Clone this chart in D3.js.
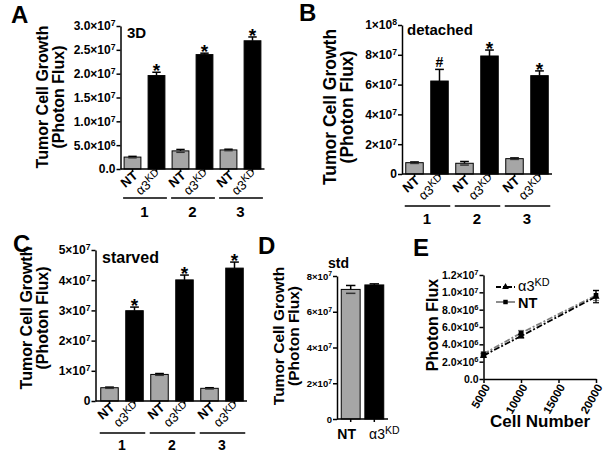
<!DOCTYPE html>
<html><head><meta charset="utf-8">
<script src="https://cdn.jsdelivr.net/npm/d3@7"></script>
<style>body{margin:0;background:#fff} svg{display:block} text{font-family:"Liberation Sans",Arial,Helvetica,sans-serif}</style>
</head><body>
<svg id="chart" width="604" height="455"></svg>
<script>
// ---------- DATA ----------
const barCategories = ["NT","α3^KD","NT","α3^KD","NT","α3^KD"];
const groupLabels = ["1","2","3"];

const aValues = [2.5e6, 19.6e6, 3.8e6, 24.0e6, 4.0e6, 26.9e6];
const aErrors = [0.15e6, 0.7e6, 0.3e6, 0.3e6, 0.15e6, 0.8e6];
const aMarks  = ["", "*", "", "*", "", "*"];
const aTicks  = [0, 5e6, 1e7, 1.5e7, 2e7, 2.5e7, 3e7];
const aTickLabels = ["0.0","5.0×10^6","1.0×10^7","1.5×10^7","2.0×10^7","2.5×10^7","3.0×10^7"];

const bValues = [7.6e6, 62.4e6, 7.2e6, 79.2e6, 10.3e6, 66.0e6];
const bErrors = [0.5e6, 7.8e6, 1.2e6, 4.0e6, 0.5e6, 3.2e6];
const bMarks  = ["", "#", "", "*", "", "*"];
const bTicks  = [0, 2e7, 4e7, 6e7, 8e7, 1e8];
const bTickLabels = ["0","2×10^7","4×10^7","6×10^7","8×10^7","1×10^8"];

const cValues = [4.4e6, 29.9e6, 8.8e6, 40.1e6, 4.2e6, 44.0e6];
const cErrors = [0.2e6, 1.2e6, 0.3e6, 1.6e6, 0.2e6, 2.0e6];
const cMarks  = ["", "*", "", "*", "", "*"];
const cTicks  = [0, 1e7, 2e7, 3e7, 4e7, 5e7];
const cTickLabels = ["0","1×10^7","2×10^7","3×10^7","4×10^7","5×10^7"];

const dCategories = ["NT","α3^KD"];
const dValues = [7.25e7, 7.5e7];
const dErrors = [2.2e6, 0.6e6];
const dTicks  = [0, 2e7, 4e7, 6e7, 8e7];
const dTickLabels = ["0","2×10^7","4×10^7","6×10^7","8×10^7"];

const eCellNumbers = [5000, 10000, 20000];
const eKdValues = [2.7e6, 4.95e6, 9.5e6];
const eKdErrors = [0.2e6, 0.2e6, 0.7e6];
const eNtValues = [2.9e6, 5.3e6, 9.65e6];
const eNtErrors = [0.2e6, 0.3e6, 0.6e6];
const eSeriesNames = ["α3^KD","NT"];
const eYTicks = [0, 2e6, 4e6, 6e6, 8e6, 1e7, 1.2e7];
const eYTickLabels = ["0.0","2.0×10^6","4.0×10^6","6.0×10^6","8.0×10^6","1.0×10^7","1.2×10^7"];
const eXTicks = [5000, 10000, 15000, 20000];

// ---------- HELPERS ----------
const svg = d3.select("#chart");
const GRAY = "#a6a6a6";

function richText(sel, str, supScale) {
  sel.text(null);
  const parts = str.split("^");
  sel.append("tspan").text(parts[0]);
  if (parts[1]) sel.append("tspan").attr("dy", "-0.45em").attr("font-size", supScale + "em").text(parts[1]);
}

function label(x, y, str, size, opts = {}) {
  const t = svg.append("text").attr("x", x).attr("y", y)
    .attr("font-size", size).attr("font-weight", opts.weight || "bold")
    .attr("text-anchor", opts.anchor || "start").attr("fill", "#000");
  richText(t, str, opts.sup || 0.7);
  return t;
}

function yTitle(lines, xs, cy, size) {
  lines.forEach((l, i) => {
    svg.append("text").attr("transform", `translate(${xs[i]},${cy}) rotate(-90)`)
      .attr("text-anchor", "middle").attr("dominant-baseline", "central")
      .attr("font-size", size).attr("font-weight", "bold").text(l);
  });
}

function yAxis(scale, x0, ticks, labels, fontSize) {
  const ax = d3.axisLeft(scale).tickValues(ticks).tickSize(4).tickSizeOuter(0).tickPadding(1).tickFormat(() => "");
  const g = svg.append("g").attr("transform", `translate(${x0},0)`).call(ax);
  g.attr("font-family", null).attr("font-size", null);
  g.select(".domain").attr("stroke-width", 1.5);
  g.selectAll(".tick line").attr("stroke-width", 1.5);
  g.selectAll(".tick text").each(function (d, i) { richText(d3.select(this), labels[i], 0.72); })
    .attr("font-size", fontSize).attr("font-weight", "bold").attr("fill", "#000");
  return g;
}

function barPanel(cfg) {
  const y = d3.scaleLinear().domain(cfg.yDomain).range(cfg.yRange);
  const x = d3.scaleBand().domain(d3.range(cfg.values.length)).range(cfg.xRange)
    .paddingInner(cfg.padIn).paddingOuter(cfg.padOut);
  const base = cfg.yRange[0];
  const bw = x.bandwidth();
  svg.append("g").selectAll("rect").data(cfg.values).join("rect")
    .attr("x", (d, i) => x(i)).attr("width", bw)
    .attr("y", d => y(d)).attr("height", d => base - y(d))
    .attr("fill", (d, i) => i % 2 === 0 ? GRAY : "#000")
    .attr("stroke", "#000").attr("stroke-width", 1);
  const eg = svg.append("g").attr("stroke", "#000").attr("stroke-width", 1.5);
  cfg.values.forEach((v, i) => {
    const cx = x(i) + bw / 2, e = cfg.errors[i];
    eg.append("line").attr("x1", cx).attr("x2", cx).attr("y1", y(v)).attr("y2", y(v + e));
    eg.append("line").attr("x1", cx - bw * 0.25).attr("x2", cx + bw * 0.25).attr("y1", y(v + e)).attr("y2", y(v + e));
    if (i % 2 === 0) eg.append("line").attr("x1", cx - bw * 0.25).attr("x2", cx + bw * 0.25).attr("y1", y(v - e)).attr("y2", y(v - e)).attr("stroke", "#333");
    if (cfg.marks && cfg.marks[i]) {
      const m = cfg.marks[i];
      svg.append("text").attr("x", cx).attr("y", m === "*" ? y(v + e) + 5 : y(v + e) - 2)
        .attr("text-anchor", "middle").attr("font-weight", "bold")
        .attr("font-size", m === "*" ? 19 : 14).text(m);
    }
  });
  yAxis(y, cfg.x0, cfg.ticks, cfg.tickLabels, cfg.tickFont);
  svg.append("line").attr("x1", cfg.x0).attr("x2", cfg.xRange[1]).attr("y1", base).attr("y2", base)
    .attr("stroke", "#000").attr("stroke-width", 1.5);
  cfg.values.forEach((v, i) => {
    const cx = x(i) + bw / 2;
    svg.append("line").attr("x1", cx).attr("x2", cx).attr("y1", base).attr("y2", base + 3)
      .attr("stroke", "#000").attr("stroke-width", 1.5);
  });
  if (cfg.rotate) {
    cfg.categories.forEach((c, i) => {
      const cx = x(i) + bw / 2;
      const t = svg.append("text").attr("transform", `translate(${cx + 6},${base + 8}) rotate(-40)`)
        .attr("text-anchor", "end").attr("font-size", 13).attr("font-weight", c === "NT" ? "bold" : "normal");
      richText(t, c, 0.8);
    });
    groupLabels.forEach((g, k) => {
      const x1 = x(2 * k), x2 = x(2 * k + 1) + bw;
      svg.append("line").attr("x1", x1 - 1).attr("x2", x2 + 2).attr("y1", cfg.ulY).attr("y2", cfg.ulY)
        .attr("stroke", "#000").attr("stroke-width", 1.5);
      svg.append("text").attr("x", (x1 + x2) / 2).attr("y", cfg.numY).attr("text-anchor", "middle")
        .attr("font-size", cfg.numFont || 15).attr("font-weight", "bold").text(g);
    });
  } else {
    cfg.categories.forEach((c, i) => {
      const cx = x(i) + bw / 2;
      const t = svg.append("text").attr("x", cx + cfg.catDx[i]).attr("y", cfg.catY).attr("text-anchor", "middle")
        .attr("font-size", 14).attr("font-weight", c === "NT" ? "bold" : "normal");
      richText(t, c, 0.75);
    });
  }
}

// ---------- PANEL A ----------
label(11, 23, "A", 24);
yTitle(["Tumor Cell Growth", "(Photon Flux)"], [42, 58], 97, 16);
barPanel({values: aValues, errors: aErrors, marks: aMarks, categories: barCategories,
  yDomain: [0, 3e7], yRange: [169, 26], xRange: [120.5, 264.5], padIn: 0.3, padOut: 0.15,
  x0: 120.5, ticks: aTicks, tickLabels: aTickLabels, tickFont: 12, rotate: true, ulY: 198, numY: 217});
label(127, 38, "3D", 15);

// ---------- PANEL B ----------
label(299, 21, "B", 24);
yTitle(["Tumor Cell Growth", "(Photon Flux)"], [330, 347], 107, 17.5);
barPanel({values: bValues, errors: bErrors, marks: bMarks, categories: barCategories,
  yDomain: [0, 1e8], yRange: [174, 25], xRange: [402, 552], padIn: 0.3, padOut: 0.15,
  x0: 402, ticks: bTicks, tickLabels: bTickLabels, tickFont: 12, rotate: true, ulY: 206, numY: 224});
label(407, 35, "detached", 15);

// ---------- PANEL C ----------
label(13, 252, "C", 24);
yTitle(["Tumor Cell Growth", "(Photon Flux)"], [26, 42], 318, 16);
barPanel({values: cValues, errors: cErrors, marks: cMarks, categories: barCategories,
  yDomain: [0, 5e7], yRange: [401, 250], xRange: [97, 247], padIn: 0.3, padOut: 0.15,
  x0: 95.5, ticks: cTicks, tickLabels: cTickLabels, tickFont: 12, rotate: true, ulY: 433, numY: 450, numFont: 14});
label(102, 263, "starved", 16);

// ---------- PANEL D ----------
label(258, 254, "D", 24);
yTitle(["Tumor Cell Growth", "(Photon Flux)"], [278, 293], 336, 15.5);
barPanel({values: dValues, errors: dErrors, marks: null, categories: dCategories,
  yDomain: [0, 8e7], yRange: [419, 276], xRange: [337, 388], padIn: 0.2, padOut: 0.18,
  x0: 337, ticks: dTicks, tickLabels: dTickLabels, tickFont: 9.5, rotate: false, catY: 439, catDx: [-4, 10]});
label(328, 268, "std", 14);

// ---------- PANEL E ----------
label(413, 256, "E", 24);
yTitle(["Photon Flux"], [432], 325, 16);
const ex = d3.scaleLinear().domain([5000, 20000]).range([483.5, 596]);
const ey = d3.scaleLinear().domain([0, 1.2e7]).range([379, 275]);
yAxis(ey, 483.5, eYTicks, eYTickLabels, 10.5);
const gx = svg.append("g").attr("transform", "translate(0,379)")
  .call(d3.axisBottom(ex).tickValues(eXTicks).tickSize(4).tickSizeOuter(0).tickFormat(d3.format("d")));
gx.attr("font-family", null).attr("font-size", null);
gx.select(".domain").attr("stroke-width", 1.5);
gx.selectAll(".tick line").attr("stroke-width", 1.5);
gx.selectAll(".tick text").attr("font-size", 11.5).attr("font-weight", "bold").attr("fill", "#000")
  .attr("text-anchor", "end").attr("x", 0).attr("y", 0).attr("dy", "0.35em")
  .attr("transform", "translate(3,6) rotate(-60)");
svg.append("text").attr("x", 540).attr("y", 427).attr("text-anchor", "middle")
  .attr("font-size", 17).attr("font-weight", "bold").text("Cell Number");

const line = d3.line().x((d, i) => ex(eCellNumbers[i])).y(d => ey(d));
const series = [
  {vals: eNtValues, errs: eNtErrors, color: "#808080", shape: d3.symbolSquare},
  {vals: eKdValues, errs: eKdErrors, color: "#000", shape: d3.symbolTriangle}
];
series.forEach(s => {
  svg.append("path").attr("d", line(s.vals)).attr("fill", "none").attr("stroke", s.color)
    .attr("stroke-width", 1.8).attr("stroke-dasharray", "6,2,2,2");
  s.vals.forEach((v, i) => {
    const cx = ex(eCellNumbers[i]);
    svg.append("line").attr("x1", cx).attr("x2", cx).attr("y1", ey(v - s.errs[i])).attr("y2", ey(v + s.errs[i])).attr("stroke", s.color).attr("stroke-width", 1.2);
    [v - s.errs[i], v + s.errs[i]].forEach(w => svg.append("line").attr("x1", cx - 3).attr("x2", cx + 3).attr("y1", ey(w)).attr("y2", ey(w)).attr("stroke", s.color).attr("stroke-width", 1.2));
    svg.append("path").attr("d", d3.symbol(s.shape, 22)()).attr("transform", `translate(${cx},${ey(v)})`).attr("fill", "#000");
  });
});
// legend
[{y: 287, color: "#000", shape: d3.symbolTriangle, name: eSeriesNames[0], w: "normal", ty: 291},
 {y: 302, color: "#808080", shape: d3.symbolSquare, name: eSeriesNames[1], w: "bold", ty: 308}].forEach(l => {
  svg.append("line").attr("x1", 496).attr("x2", 515).attr("y1", l.y).attr("y2", l.y)
    .attr("stroke", l.color).attr("stroke-width", 1.8).attr("stroke-dasharray", l.color === "#000" ? "5,2,2,2" : null);
  svg.append("path").attr("d", d3.symbol(l.shape, 20)()).attr("transform", `translate(505.5,${l.y})`).attr("fill", "#000");
  const t = svg.append("text").attr("x", 518).attr("y", l.ty).attr("font-size", 14.5).attr("font-weight", l.w);
  richText(t, l.name, 0.75);
});
</script>
</body></html>
